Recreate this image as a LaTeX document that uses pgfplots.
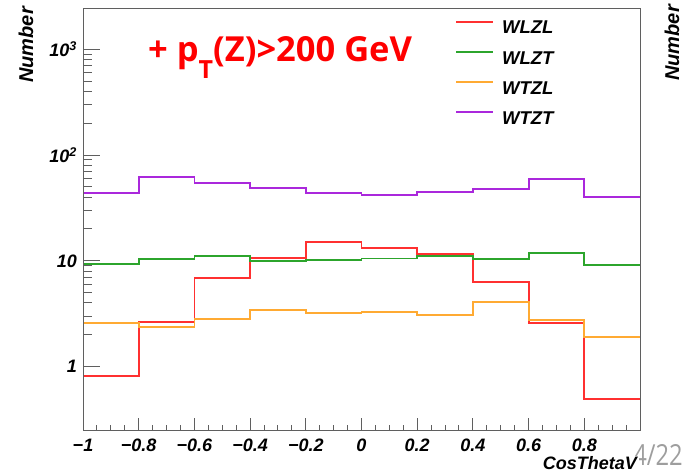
\documentclass[border=0pt]{standalone}
\usepackage{pgfplots}
\pgfplotsset{compat=1.18}
\usepackage{pgfplotstable}
\usepackage{fontspec}
\setmainfont{Liberation Sans}
\newfontfamily\titlefont{Open Sans}

\definecolor{cWLZL}{RGB}{255,48,48}
\definecolor{cWLZT}{RGB}{44,165,44}
\definecolor{cWTZL}{RGB}{255,170,50}
\definecolor{cWTZT}{RGB}{170,40,220}
\definecolor{frame}{RGB}{95,95,95}

% bin lower edges, last row closes the final bin at x = 1
\pgfplotstableread{
x     WLZL   WLZT   WTZL   WTZT
-1.0  0.817  9.29   2.60   43.5
-0.8  2.64   10.4   2.37   62.5
-0.6  6.94   11.2   2.84   54.0
-0.4  10.7   9.97   3.43   48.6
-0.2  15.0   10.1   3.24   43.8
 0.0  13.2   10.5   3.29   41.7
 0.2  11.6   11.2   3.07   45.1
 0.4  6.32   10.4   4.11   47.8
 0.6  2.57   11.9   2.76   59.0
 0.8  0.499  9.2    1.90   40.4
 1.0  0.499  9.2    1.90   40.4
}\hists

\newcommand\axfont{\fontsize{18}{20}\selectfont\bfseries\itshape}

\begin{document}
\begin{tikzpicture}[x=1pt,y=1pt]
\useasboundingbox (0,0) rectangle (685,475);
\clip (0,0) rectangle (685,475);

% main frame: histograms, logarithmic y axis
\begin{axis}[
  at={(83pt,45pt)}, anchor=south west,
  scale only axis, width=557pt, height=422pt,
  ymode=log, xmin=-1, xmax=1, ymin=0.252, ymax=2450,
  axis line style={frame, line width=1pt},
  tick style={frame, line width=1pt},
  xtick=\empty,
  ytick={1,10,100,1000},
  yticklabels={1,10,10\textsuperscript{2},10\textsuperscript{3}},
  ytick pos=left, tick align=inside,
  major tick length=17pt, minor tick length=9pt,
  yticklabel style={font=\axfont, inner sep=0pt, xshift=-6pt},
  legend image code/.code={%
    \draw[#1, line width=1.8pt] (0pt,6.6pt) -- (37pt,6.6pt);
    \path (45pt,0pt);},
  legend cell align=left,
  legend style={draw=none, fill=none, inner sep=0pt,
    at={(axis description cs:0.668,1)}, anchor=north west,
    yshift=-12.5pt, font=\fontsize{18.5}{20}\selectfont\bfseries\itshape,
    nodes={inner sep=0pt}, row sep=15.6pt},
  every axis plot/.append style={const plot, line width=1.8pt, no marks},
]
\addplot[cWLZL] table[x=x, y=WLZL] {\hists};
\addlegendentry{WLZL}
\addplot[cWLZT] table[x=x, y=WLZT] {\hists};
\addlegendentry{WLZT}
\addplot[cWTZL] table[x=x, y=WTZL] {\hists};
\addlegendentry{WTZL}
\addplot[cWTZT] table[x=x, y=WTZT] {\hists};
\addlegendentry{WTZT}
\end{axis}

% x axis ticks with their own lengths
\begin{axis}[
  at={(83pt,45pt)}, anchor=south west,
  scale only axis, width=557pt, height=422pt,
  xmin=-1, xmax=1, ymin=0, ymax=1,
  axis line style={frame, line width=1pt},
  tick style={frame, line width=1pt},
  ytick=\empty,
  xtick={-1,-0.8,-0.6,-0.4,-0.2,0,0.2,0.4,0.6,0.8,1},
  xticklabels={−1,−0.8,−0.6,−0.4,−0.2,0,0.2,0.4,0.6,0.8,{}},
  minor x tick num=3,
  xtick pos=bottom, tick align=inside,
  major tick length=12pt, minor tick length=5pt,
  xticklabel style={font=\axfont, inner sep=0pt, yshift=-9pt},
]
\end{axis}

\node[rotate=90, anchor=east, inner sep=0pt,
      font=\fontsize{20}{22}\selectfont\bfseries\itshape] at (26,468) {Number};
\node[rotate=90, anchor=east, inner sep=0pt,
      font=\fontsize{20}{22}\selectfont\bfseries\itshape] at (672,470) {Number};

\node[anchor=base west, inner sep=0pt, text=red,
      font=\titlefont\fontsize{34.5}{36}\selectfont\bfseries] at (148,413)
  {+ p\raisebox{-16pt}{\fontsize{25}{26}\selectfont T}(Z)>200 GeV};

\node[anchor=base east, inner sep=0pt, text=black!38,
      font=\titlefont\fontsize{29}{30}\selectfont] at (683,10)
  {\scalebox{0.82}[1]{4/22}};
\node[anchor=east, fill=white, inner ysep=0pt, inner xsep=2pt,
      font=\fontsize{18}{20}\selectfont\bfseries\itshape] at (639,12) {CosThetaV};
\end{tikzpicture}
\end{document}
